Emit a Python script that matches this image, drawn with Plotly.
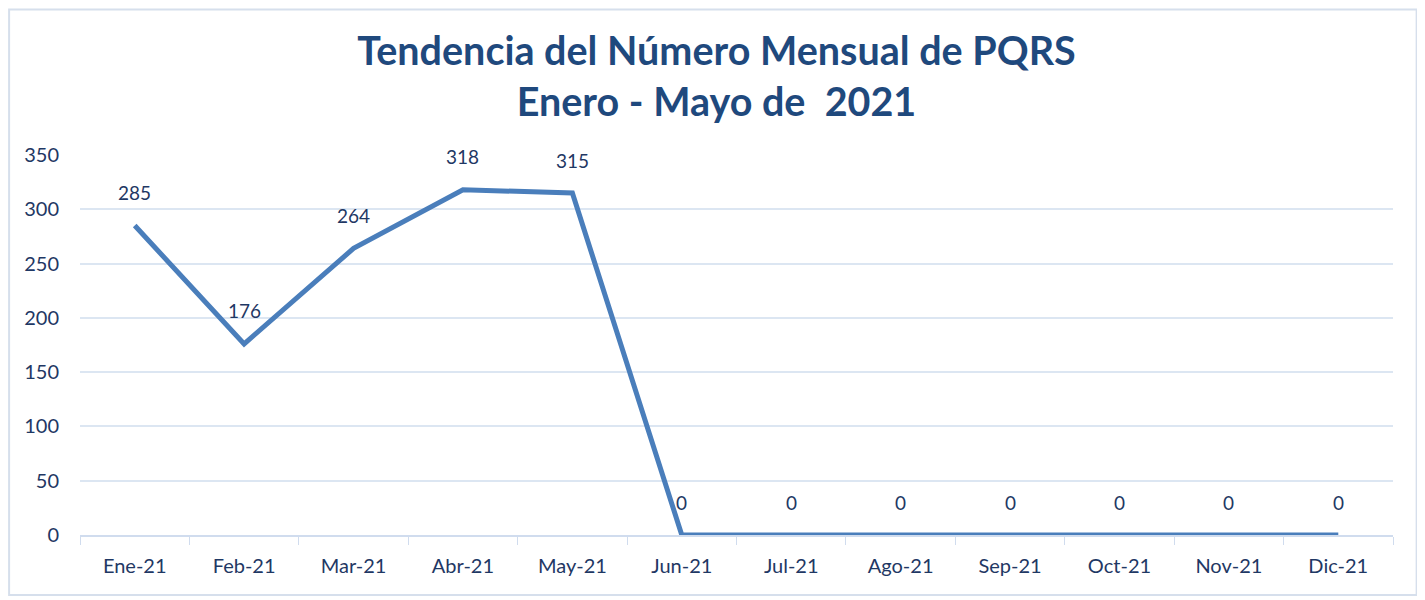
import plotly.graph_objects as go

months = ["Ene-21", "Feb-21", "Mar-21", "Abr-21", "May-21", "Jun-21",
          "Jul-21", "Ago-21", "Sep-21", "Oct-21", "Nov-21", "Dic-21"]
pqrs = [285, 176, 264, 318, 315, 0, 0, 0, 0, 0, 0, 0]
y_ticks = [0, 50, 100, 150, 200, 250, 300, 350]

NAVY = "#1f3864"
FONT = "Lato"

fig = go.Figure()
fig.add_trace(go.Scatter(
    x=months, y=pqrs, mode="lines",
    line=dict(color="#4a7ebb", width=5),
    showlegend=False, hoverinfo="x+y",
))

for m, v in zip(months, pqrs):
    fig.add_annotation(x=m, y=v, text=str(v), showarrow=False,
                       yshift=33, font=dict(family=FONT, size=19, color=NAVY))

# outer chart border
fig.add_shape(type="rect", xref="paper", yref="paper",
              x0=-0.0540, x1=1.0180, y0=-0.158, y1=1.383,
              line=dict(color="#d6dfec", width=2), fillcolor="rgba(0,0,0,0)", layer="below")

fig.update_layout(
    width=1417, height=592,
    margin=dict(l=72, r=32, t=147, b=65),
    paper_bgcolor="white", plot_bgcolor="white",
    title=dict(
        text="<b>Tendencia del Número Mensual de PQRS<br>Enero - Mayo de  2021</b>",
        x=0.5, xanchor="center", y=0.904, yanchor="top",
        font=dict(family=FONT, size=39.5, color="#1f497d"),
    ),
    font=dict(family=FONT, color=NAVY),
)
fig.update_xaxes(
    type="category", range=[-0.5, 11.5],
    showline=True, linecolor="#d0dcee", linewidth=2,
    ticks="outside", tickson="boundaries", ticklen=8, tickcolor="#d0dcee",
    tickfont=dict(family=FONT, size=20, color=NAVY),
    ticklabelstandoff=12,
    showgrid=False,
)
fig.update_yaxes(
    range=[0, 350], tickvals=y_ticks,
    showgrid=True, gridcolor="#dce6f2", gridwidth=1.5,
    zeroline=False, showline=False,
    tickfont=dict(family=FONT, size=20, color=NAVY),
    ticks="", ticklabelstandoff=20,
)

fig.write_html("out.html")
